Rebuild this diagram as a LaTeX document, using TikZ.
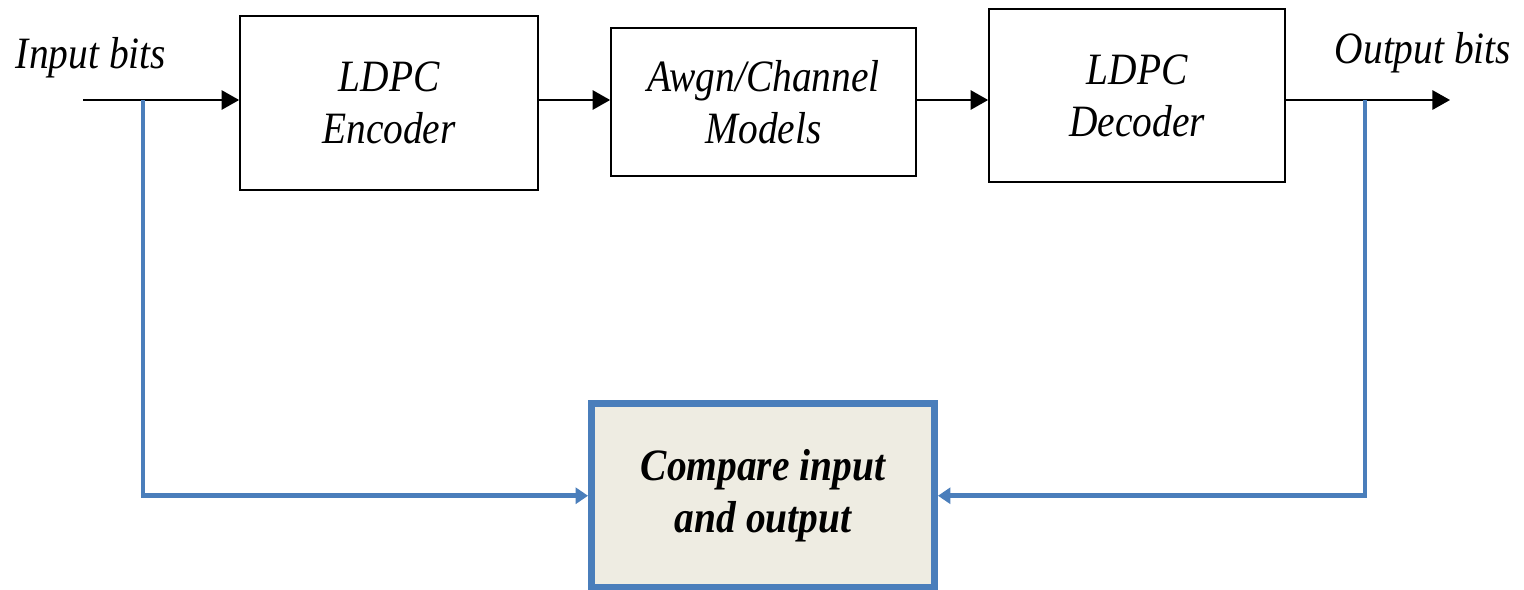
\documentclass[tikz,border=0pt]{standalone}
\usepackage{fontspec}
\setmainfont[FakeStretch=0.88]{Liberation Serif}
\usetikzlibrary{arrows.meta,positioning}
\definecolor{linkblue}{RGB}{74,126,187}
\definecolor{cmpfill}{RGB}{238,236,226}

\begin{document}
\begin{tikzpicture}[x=0.02cm,y=-0.02cm,>={Triangle[length=10pt,width=11pt]},
  font=\fontsize{25.5}{29.5}\selectfont\itshape,
  block/.style={draw,line width=1pt,align=center,inner sep=0pt}]
  \useasboundingbox (0,0) rectangle (1524,589);
  \node[block,minimum width=5.96cm,minimum height=3.48cm] (E) at (389,103)   {LDPC\\Encoder};
  \node[block,minimum width=6.1cm,minimum height=2.96cm]  (A) at (763.5,102) {Awgn/Channel\\Models};
  \node[block,minimum width=5.92cm,minimum height=3.46cm] (D) at (1137,95.5) {LDPC\\Decoder};
  \node[block,draw=linkblue,line width=4pt,fill=cmpfill,font=\fontsize{25.5}{29.5}\selectfont\bfseries\itshape,
        minimum width=6.86cm,minimum height=3.69cm] (C) at (763,495.75) {Compare input\\and output};
  \node[anchor=base] (ib) at (91,68)    {Input bits};
  \node[anchor=base] (ob) at (1423,63)  {Output bits};
  \coordinate (in)     at (83,100);
  \coordinate (out)    at (1450,100);
  \coordinate (tapin)  at (143,100);
  \coordinate (tapout) at (1365,100);
\tikzset{flow/.style={->,line width=1.1pt}}
\path (in)            edge [flow] (in -| E.west)
      (E.east |- in)  edge [flow] (A.west |- in)
      (A.east |- in)  edge [flow] (D.west |- in)
      (D.east |- in)  edge [flow] (out);
\tikzset{feed/.style={->,>={Triangle[length=7pt,width=9pt]},draw=linkblue,line width=2.8pt}}
\draw[feed] (tapin)  |- (C);
\draw[feed] (tapout) |- (C);
\end{tikzpicture}
\end{document}
